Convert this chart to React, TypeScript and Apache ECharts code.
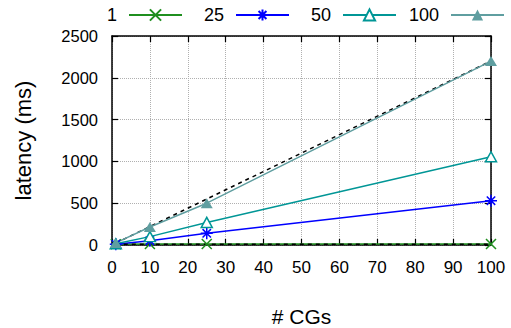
import React, { useEffect, useRef } from "react";
import * as echarts from "echarts";

const cgCounts = [1, 10, 25, 100];
const seriesNames = ["1", "25", "50", "100"];
const lat1 = [10, 12, 12, 13];
const lat25 = [10, 52, 140, 530];
const lat50 = [15, 100, 270, 1055];
const lat100 = [25, 215, 500, 2200];
const idealX = [1, 100];
const idealHigh = [22, 2200];
const idealLow = [10, 10];

const FONT = "'Liberation Sans', Arial, Helvetica, sans-serif";
const C1 = "#1f8f1f";
const C25 = "#0000ff";
const C50 = "#009696";
const C100 = "#5f9ea0";

const CROSS = "path://M0,0L10,10M0,10L10,0";
const STAR = "path://M5,0L5,10M0,5L10,5M1.5,1.5L8.5,8.5M1.5,8.5L8.5,1.5";

export default function App() {
  const ref = useRef<HTMLDivElement>(null);
  useEffect(() => {
    if (!ref.current) return;
    const chart = echarts.init(ref.current, null, { renderer: "svg" });
    const pts = (ys: number[]) => cgCounts.map((x, i) => [x, ys[i]]);
    const ideal = (ys: number[]) => idealX.map((x, i) => [x, ys[i]]);
    const legendRights = [328, 221, 114, 6];
    const legends = seriesNames.map((n, i) => ({
      data: [n],
      right: legendRights[i],
      top: 6,
      padding: 0,
      align: "right",
      itemWidth: 53,
      itemHeight: 14,
      formatter: "{a|{name}}",
      textStyle: {
        fontFamily: FONT, fontSize: 18, color: "#000",
        rich: { a: { fontFamily: FONT, fontSize: 18, color: "#000", padding: [0, 7, 0, 0] } },
      },
    }));
    const axisTick = { show: true, inside: true, length: 6, lineStyle: { color: "#000", width: 1.2 } };
    const axisLine = { show: true, onZero: false, lineStyle: { color: "#000", width: 1.5 } };
    const grid = { show: true, type: "dotted", color: "#b0b0b0", width: 1 };
    const common = { type: "line", clip: false, symbolSize: 11, lineStyle: { width: 1.5 } };
    chart.setOption({
      animation: false,
      backgroundColor: "#fff",
      legend: legends,
      grid: { left: 112, right: 20, top: 36, bottom: 83, containLabel: false, outerBoundsMode: "none" },
      xAxis: [
        {
          type: "value", min: 0, max: 100, interval: 10,
          name: "# CGs", nameLocation: "middle", nameGap: 61,
          nameTextStyle: { fontFamily: FONT, fontSize: 21, color: "#000" },
          axisLabel: { fontFamily: FONT, fontSize: 17, color: "#000", margin: 14 },
          axisTick, axisLine, splitLine: { show: true, lineStyle: grid },
        },
        {
          type: "value", min: 0, max: 100, interval: 10, position: "top",
          axisLabel: { show: false }, axisTick, axisLine, splitLine: { show: false },
        },
      ],
      yAxis: [
        {
          type: "value", min: 0, max: 2500, interval: 500,
          name: "latency (ms)", nameLocation: "middle", nameGap: 78,
          nameTextStyle: { fontFamily: FONT, fontSize: 22, color: "#000" },
          axisLabel: {
            fontFamily: FONT, fontSize: 16.5, color: "#000", margin: 14,
            formatter: (v: number) => String(v),
          },
          axisTick, axisLine, splitLine: { show: true, lineStyle: grid },
        },
        {
          type: "value", min: 0, max: 2500, interval: 500, position: "right",
          axisLabel: { show: false }, axisTick, axisLine, splitLine: { show: false },
        },
      ],
      series: [
        {
          ...common, name: seriesNames[0], data: pts(lat1), symbol: CROSS, symbolSize: 10,
          itemStyle: { color: C1, borderColor: C1, borderWidth: 1.5 },
          lineStyle: { color: C1, width: 1.5 },
        },
        {
          ...common, name: seriesNames[1], data: pts(lat25), symbol: STAR, symbolSize: 12,
          itemStyle: { color: C25, borderColor: C25, borderWidth: 1.5 },
          lineStyle: { color: C25, width: 1.5 },
        },
        {
          ...common, name: seriesNames[2], data: pts(lat50), symbol: "triangle", symbolSize: [11, 10],
          itemStyle: { color: "#fff", borderColor: C50, borderWidth: 1.5 },
          lineStyle: { color: C50, width: 1.5 },
        },
        {
          ...common, name: seriesNames[3], data: pts(lat100), symbol: "triangle", symbolSize: [12, 10],
          itemStyle: { color: C100 },
          lineStyle: { color: C100, width: 1.5 },
        },
        {
          type: "line", data: ideal(idealHigh), symbol: "none", z: 1,
          lineStyle: { color: "#000", width: 1.5, type: [4, 4] },
        },
        {
          type: "line", data: ideal(idealLow), symbol: "none", z: 3,
          lineStyle: { color: "#000", width: 1.5, type: [4, 4] },
        },
      ],
    });
    return () => chart.dispose();
  }, []);
  return <div ref={ref} style={{ width: 511, height: 328, position: "absolute", left: 0, top: 0 }} />;
}
